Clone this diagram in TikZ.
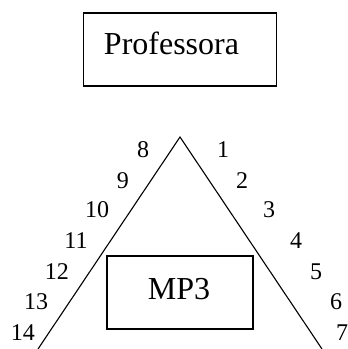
\documentclass[tikz,border=0pt]{standalone}
\usepackage{fontspec}
\setmainfont{Liberation Serif}
\begin{document}
\begin{tikzpicture}[x=1pt,y=-1pt,
  boxstyle/.style={draw, line width=1.2pt, inner sep=0pt},
  bigtext/.style={font=\fontsize{32}{32}\selectfont, inner sep=0pt},
  numlabel/.style={font=\fontsize{24}{24}\selectfont, inner sep=0pt, anchor=center},
  sideline/.style={line width=1.1pt}]
\useasboundingbox (0,0) rectangle (348,349);
% Professora box
\node[boxstyle, minimum width=193pt, minimum height=73pt] (prof) at (180,49.5) {};
\node[bigtext, anchor=base] (proftext) at (171.5,54) {Professora};
% triangle
\coordinate (apex) at (180,137);
\coordinate (bl) at (38,349);
\coordinate (br) at (322,349);
\draw[sideline] (bl) -- (apex) -- (br);
% MP3 box
\node[boxstyle, minimum width=146pt, minimum height=73pt] (mp3) at (180,292.5) {};
\node[bigtext, anchor=base] (mp3text) at (179,299) {MP3};
% left labels
\node[numlabel] (n8) at (143,150) {8};
\node[numlabel] (n9) at (123,181) {9};
\node[numlabel] (n10) at (97,210) {10};
\node[numlabel] (n11) at (76,241) {11};
\node[numlabel] (n12) at (57,272) {12};
\node[numlabel] (n13) at (36,302) {13};
\node[numlabel] (n14) at (23,333) {14};
% right labels
\node[numlabel] (n1) at (223,150) {1};
\node[numlabel] (n2) at (242,181) {2};
\node[numlabel] (n3) at (269,210) {3};
\node[numlabel] (n4) at (296,241) {4};
\node[numlabel] (n5) at (316,272) {5};
\node[numlabel] (n6) at (336,302) {6};
\node[numlabel] (n7) at (342,333) {7};
\end{tikzpicture}
\end{document}
